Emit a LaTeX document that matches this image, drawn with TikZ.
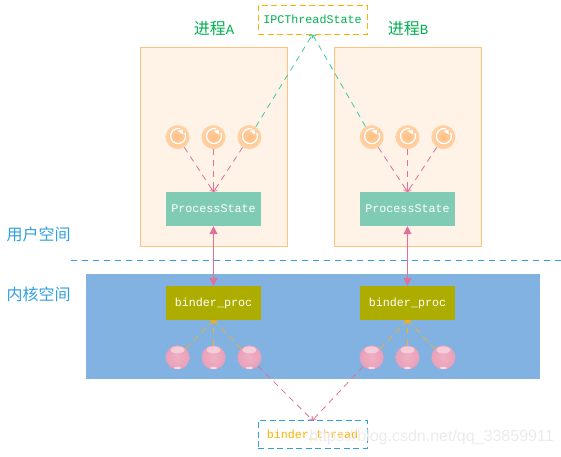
\documentclass[tikz,border=0pt]{standalone}
\usepackage{fontspec}
\setmainfont{Liberation Mono}
\setsansfont{Liberation Sans}
\newfontfamily\cjkfont{Noto Sans CJK SC}
\usetikzlibrary{arrows.meta, positioning}
\definecolor{panelfill}{HTML}{FFF2E6}
\definecolor{paneldraw}{HTML}{FFC27F}
\definecolor{kernelblue}{HTML}{82B2E2}
\definecolor{statefill}{HTML}{7FCBB3}
\definecolor{procfill}{HTML}{ADAD00}
\definecolor{linkteal}{HTML}{3CCBA6}
\definecolor{linkpink}{HTML}{E0709A}
\definecolor{linkorange}{HTML}{F2B01E}
\definecolor{labelblue}{HTML}{2F9FE0}
\definecolor{labelgreen}{HTML}{00B050}
\definecolor{amber}{HTML}{FFB000}
\definecolor{thrdin}{HTML}{FFC085}
\definecolor{thrdout}{HTML}{FFD2A6}
\definecolor{ballin}{HTML}{F0B0C4}
\definecolor{ballout}{HTML}{E8A0B8}
\begin{document}
\begin{tikzpicture}[
    x=1pt, y=-1pt,
    font=\fontsize{11.7pt}{14pt}\selectfont,
    panel/.style={rectangle, draw=paneldraw, fill=panelfill, minimum width=146.5pt, minimum height=199pt, inner sep=0pt},
    kernel/.style={rectangle, fill=kernelblue, minimum width=454pt, minimum height=105pt, inner sep=0pt},
    state/.style={rectangle, fill=statefill, text=white, minimum width=95pt, minimum height=34pt, inner sep=0pt},
    proc/.style={rectangle, fill=procfill, text=white, minimum width=95pt, minimum height=34pt, inner sep=0pt},
    tag/.style={rectangle, line width=1pt, dash pattern=on 6pt off 3.5pt, minimum width=109pt, inner sep=0pt},
    thrd/.style={circle, minimum size=24pt, inner sep=0pt, shading=radial, inner color=thrdin, outer color=thrdout,
        path picture={
            \draw[white, line width=1.3pt] ([shift={(.5pt,1pt)}]path picture bounding box.center) ++(25:7.5pt) arc (25:-285:7.5pt);
            \fill[white] ([shift={(.5pt,1pt)}]path picture bounding box.center) ++(55:8pt) -- ++(-5pt,-1.5pt) -- ++(5.5pt,-3.5pt) -- cycle;
        }},
    ball/.style={circle, minimum size=24pt, inner sep=0pt, shading=radial, inner color=ballin, outer color=ballout,
        path picture={
            \fill[white, opacity=.45] ([yshift=7.5pt]path picture bounding box.center) ellipse (7pt and 3.5pt);
            \fill[white, opacity=.6] ([yshift=-10.5pt]path picture bounding box.center) ellipse (3.5pt and 1.2pt);
        }},
    link/.style={-{Straight Barb[length=2.5pt, width=5pt]}, dash pattern=on 6pt off 5pt, line width=.8pt},
    both/.style={{Triangle[length=8pt, width=8pt]}-{Triangle[length=8pt, width=8pt]}, linkpink, line width=.9pt},
    zh/.style={font=\fontsize{16pt}{18pt}\cjkfont}
]
\path[use as bounding box] (0,0) rectangle (561,456);
% panels
\node[panel] (pa) at (213.5,146.5) {};
\node[panel, right=47.5pt of pa] (pb) {};
\node[kernel] (kn) at (313,326.5) {};
% user side
\node[state] (psa) at (213.5,209) {ProcessState};
\node[state] (psb) at (407.5,209) {ProcessState};
\node[thrd, above=42.5pt of psa] (ta2) {};
\node[thrd, left=11.5pt of ta2] (ta1) {};
\node[thrd, right=11.5pt of ta2] (ta3) {};
\node[thrd, above=42.5pt of psb] (tb2) {};
\node[thrd, left=11.5pt of tb2] (tb1) {};
\node[thrd, right=11.5pt of tb2] (tb3) {};
% kernel side
\node[proc] (bpa) at (213.5,303) {binder\_proc};
\node[proc] (bpb) at (407.5,303) {binder\_proc};
\node[ball, below=25pt of bpa] (ba2) {};
\node[ball, left=11.5pt of ba2] (ba1) {};
\node[ball, right=11.5pt of ba2] (ba3) {};
\node[ball, below=25pt of bpb] (bb2) {};
\node[ball, left=11.5pt of bb2] (bb1) {};
\node[ball, right=11.5pt of bb2] (bb3) {};
% tags
\node[tag, draw=amber, text=labelgreen, minimum height=29pt] (ipc) at (312.5,19.5) {IPCThreadState};
\node[tag, draw=labelblue, text=amber, minimum height=27.5pt] (bt) at (312.5,434.5) {binder\_thread};
% labels
\node[zh, text=labelgreen] (la) at (214,29) {进程{\fontsize{14pt}{18pt}\rmfamily A}};
\node[zh, text=labelgreen] (lb) at (408,29) {进程{\fontsize{14pt}{18pt}\rmfamily B}};
\node[zh, text=labelblue] (lu) at (38.5,234) {用户空间};
\node[zh, text=labelblue] (lk) at (38.5,294) {内核空间};
\node[font=\fontsize{16pt}{18pt}\sffamily, text=black!8, inner sep=0pt] (wm) at (431.5,437) {https://blog.csdn.net/qq\_33859911};
% divider
\coordinate (dl) at (71,260.5);
\coordinate (dr) at (561,260.5);
\draw[draw=labelblue, dash pattern=on 6pt off 5pt, line width=1pt] (dl) -- (dr);
% connectors
\draw[link, linkteal] (ta3) -- (ipc.south);
\draw[link, linkteal] (tb1) -- (ipc.south);
\draw[link, linkpink] (ta1) -- (psa.north);
\draw[link, linkpink] (ta2) -- (psa.north);
\draw[link, linkpink] (ta3) -- (psa.north);
\draw[link, linkpink] (tb1) -- (psb.north);
\draw[link, linkpink] (tb2) -- (psb.north);
\draw[link, linkpink] (tb3) -- (psb.north);
\draw[both] (psa) -- (bpa);
\draw[both] (psb) -- (bpb);
\draw[link, linkorange] (ba1) -- (bpa.south);
\draw[link, linkorange] (ba2) -- (bpa.south);
\draw[link, linkorange] (ba3) -- (bpa.south);
\draw[link, linkorange] (bb1) -- (bpb.south);
\draw[link, linkorange] (bb2) -- (bpb.south);
\draw[link, linkorange] (bb3) -- (bpb.south);
\draw[link, linkpink] (ba3) -- (bt.north);
\draw[link, linkpink] (bb1) -- (bt.north);
\end{tikzpicture}
\end{document}
